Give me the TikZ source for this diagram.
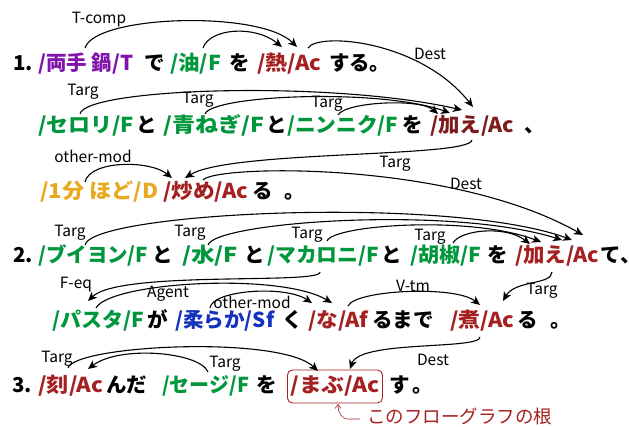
\documentclass[tikz,border=0pt]{standalone}
\usepackage{fontspec}
\usepackage{graphicx}
\setmainfont{Noto Sans CJK JP}
\usetikzlibrary{arrows.meta}
\definecolor{cpur}{RGB}{128,20,170}
\definecolor{cgrn}{RGB}{0,150,60}
\definecolor{cred}{RGB}{165,32,32}
\definecolor{cdred}{RGB}{125,28,28}
\definecolor{corg}{RGB}{232,168,32}
\definecolor{cblu}{RGB}{20,50,190}
\newcommand{\tokw}[2]{\resizebox{#1pt}{\height}{#2}}
\begin{document}
\begin{tikzpicture}[x=1pt,y=-1pt,
  tok/.style={anchor=base west, inner sep=0pt, font=\fontsize{20.5}{20.5}\selectfont\bfseries},
  lab/.style={inner sep=0pt, font=\fontsize{15.5}{15.5}\selectfont},
  arr/.style={line width=1.1pt, -{Stealth[length=9pt,width=8pt,inset=2.5pt]}},
]
\useasboundingbox (0,0) rectangle (629,427);
% line 1
\node[tok] (n1) at (13,71) {1.};
\node[tok, text=cpur] (t1a) at (38,71) {\tokw{95}{/両手 鍋/T}};
\node[tok] (w1a) at (144,71) {で};
\node[tok, text=cgrn] (t1b) at (170,71) {\tokw{51}{/油/F}};
\node[tok] (w1b) at (229,71) {を};
\node[tok, text=cred] (t1c) at (257,71) {\tokw{64}{/熱/Ac}};
\node[tok] (w1c) at (329,71) {する};
\node[tok] (w1d) at (369,71) {。};
% line 2
\node[tok, text=cgrn] (t2a) at (38,133) {\tokw{96}{/セロリ/F}};
\node[tok] (w2a) at (136,133) {と};
\node[tok, text=cgrn] (t2b) at (163,133) {\tokw{101}{/青ねぎ/F}};
\node[tok] (w2b) at (266,133) {と};
\node[tok, text=cgrn] (t2c) at (287,133) {\tokw{111}{/ニンニク/F}};
\node[tok] (w2c) at (402,133) {を};
\node[tok, text=cdred] (t2d) at (430,133) {\tokw{84}{/加え/Ac}};
\node[tok] (w2d) at (524,133) {、};
% line 3
\node[tok, text=corg] (t3a) at (40,199) {\tokw{118}{/1分 ほど/D}};
\node[tok, text=cred] (t3b) at (163,199) {\tokw{85}{/炒め/Ac}};
\node[tok] (w3a) at (252,199) {る};
\node[tok] (w3b) at (284,199) {。};
% line 4
\node[tok] (n2) at (13,263) {2.};
\node[tok, text=cgrn] (t4a) at (38,263) {\tokw{110}{/ブイヨン/F}};
\node[tok] (w4a) at (152,263) {と};
\node[tok, text=cgrn] (t4b) at (182,263) {\tokw{56}{/水/F}};
\node[tok] (w4b) at (244,263) {と};
\node[tok, text=cgrn] (t4c) at (267,263) {\tokw{112}{/マカロニ/F}};
\node[tok] (w4c) at (381,263) {と};
\node[tok, text=cgrn] (t4d) at (410,263) {\tokw{71}{/胡椒/F}};
\node[tok] (w4d) at (487,263) {を};
\node[tok, text=cred] (t4e) at (515,263) {\tokw{84}{/加え/Ac}};
\node[tok] (w4e) at (600,263) {て\rlap{、}};
% line 5
\node[tok, text=cgrn] (t5a) at (52,328) {\tokw{92}{/パスタ/F}};
\node[tok] (w5a) at (147,328) {が};
\node[tok, text=cblu] (t5b) at (175,328) {\tokw{99}{/柔らか/Sf}};
\node[tok] (w5b) at (282,328) {く};
\node[tok, text=cred] (t5c) at (308,328) {\tokw{60}{/な/Af}};
\node[tok] (w5c) at (372,328) {るまで};
\node[tok, text=cred] (t5d) at (450,328) {\tokw{64}{/煮/Ac}};
\node[tok] (w5d) at (517,328) {る};
\node[tok] (w5e) at (550,328) {。};
% line 6
\node[tok] (n3) at (12,392) {3.};
\node[tok, text=cred] (t6a) at (38,392) {\tokw{65}{/刻/Ac}};
\node[tok] (w6a) at (106,392) {んだ};
\node[tok, text=cgrn] (t6b) at (162,392) {\tokw{87}{/セージ/F}};
\node[tok] (w6b) at (256,392) {を};
\node[tok, text=cred, draw=cred, line width=0.9pt, rounded corners=5pt,
      inner xsep=3pt, inner ysep=6pt, text height=16pt, text depth=5pt] (t6c) at (287,392) {\tokw{89}{/まぶ/Ac}};
\node[tok] (w6c) at (389,392) {す};
\node[tok] (w6d) at (412,392) {。};
\node[anchor=base west, inner sep=0pt, text=cred, font=\fontsize{18.5}{18.5}\selectfont] (ann) at (367,423) {このフローグラフの根};

% labels
\node[lab] (l1) at (99,20) {T-comp};
\node[lab] (l3) at (430,54) {Dest};
\node[lab] (l4) at (83,92) {Targ};
\node[lab] (l5) at (198,100) {Targ};
\node[lab] (l6) at (327,104) {Targ};
\node[lab] (l7) at (93,156) {other-mod};
\node[lab] (l8) at (395,164) {Targ};
\node[lab] (l9) at (466,184) {Dest};
\node[lab] (l10) at (70,233) {Targ};
\node[lab] (l11) at (190,233) {Targ};
\node[lab] (l12) at (307,235) {Targ};
\node[lab] (l13) at (430,237) {Targ};
\node[lab] (l15) at (76,285) {F-eq};
\node[lab] (l16) at (168,294) {Agent};
\node[lab] (l17) at (252,302) {other-mod};
\node[lab] (l18) at (413,286) {V-tm};
\node[lab] (l19) at (542,291) {Targ};
\node[lab] (l20) at (433,360) {Dest};
\node[lab] (l21) at (57,359) {Targ};
\node[lab] (l22) at (225,364) {Targ};

% arrows line 1
\draw[arr] ([shift={(47,-23)}]t1a.base west) .. controls (95,15) and (260,10) .. ([shift={(40,-24)}]t1c.base west);
\draw[arr] ([shift={(33,-23)}]t1b.base west) .. controls (210,28) and (255,25) .. ([shift={(25,-24)}]t1c.base west);
\draw[arr] ([shift={(51,-23)}]t1c.base west) .. controls (318,32) and (420,40) .. ([shift={(43,-26)}]t2d.base west);
% line 2
\draw[arr] ([shift={(42,-19)}]t2a.base west) .. controls (85,88) and (330,80) .. ([shift={(32,-23)}]t2d.base west);
\draw[arr] ([shift={(42,-19)}]t2b.base west) .. controls (212,95) and (380,88) .. ([shift={(20,-20)}]t2d.base west);
\draw[arr] ([shift={(51,-18)}]t2c.base west) .. controls (345,102) and (420,98) .. ([shift={(8,-19)}]t2d.base west);
% line 3
\draw[arr] ([shift={(45,-17)}]t3a.base west) .. controls (90,160) and (150,160) .. ([shift={(9,-21)}]t3b.base west);
\draw[arr] ([shift={(42,7)}]t2d.base west) .. controls (470,158) and (230,150) .. ([shift={(22,-21)}]t3b.base west);
\draw[arr] ([shift={(40,-19)}]t3b.base west) .. controls (215,165) and (450,160) .. ([shift={(68,-28)}]t4e.base west);
% line 4
\draw[arr] ([shift={(47,-18)}]t4a.base west) .. controls (92,212) and (450,195) .. ([shift={(57,-23)}]t4e.base west);
\draw[arr] ([shift={(26,-18)}]t4b.base west) .. controls (215,222) and (450,205) .. ([shift={(47,-23)}]t4e.base west);
\draw[arr] ([shift={(60,-22)}]t4c.base west) .. controls (333,225) and (470,215) .. ([shift={(26,-21)}]t4e.base west);
\draw[arr] ([shift={(43,-20)}]t4d.base west) .. controls (460,230) and (505,225) .. ([shift={(15,-19)}]t4e.base west);
% line 5
\draw[arr] ([shift={(53,9)}]t4c.base west) .. controls (322,285) and (120,270) .. ([shift={(36,-27)}]t5a.base west);
\draw[arr] ([shift={(44,-20)}]t5a.base west) .. controls (110,282) and (280,272) .. ([shift={(24,-25)}]t5c.base west);
\draw[arr] ([shift={(35,-20)}]t5b.base west) .. controls (212,290) and (285,285) .. ([shift={(4,-25)}]t5c.base west);
\draw[arr] ([shift={(40,-22)}]t5c.base west) .. controls (355,290) and (455,285) .. ([shift={(30,-23)}]t5d.base west);
\draw[arr] ([shift={(37,9)}]t4e.base west) .. controls (552,285) and (515,280) .. ([shift={(53,-27)}]t5d.base west);
% line 6
\draw[arr] ([shift={(30,9)}]t5d.base west) .. controls (480,350) and (360,340) .. ([shift={(63,-23)}]t6c.base west);
\draw[arr] ([shift={(30,-24)}]t6a.base west) .. controls (75,345) and (280,335) .. ([shift={(31,-21)}]t6c.base west);
\draw[arr] ([shift={(46,-20)}]t6b.base west) .. controls (200,352) and (120,345) .. ([shift={(50,-23)}]t6a.base west);
% annotation
\draw[cred, line width=0.6pt, -{Straight Barb[length=4pt,width=6pt]}] ([shift={(-7,-4)}]ann.base west) -- (348,419) .. controls (341,419) and (338,412) .. ([shift={(51,12)}]t6c.base west);
\end{tikzpicture}
\end{document}
